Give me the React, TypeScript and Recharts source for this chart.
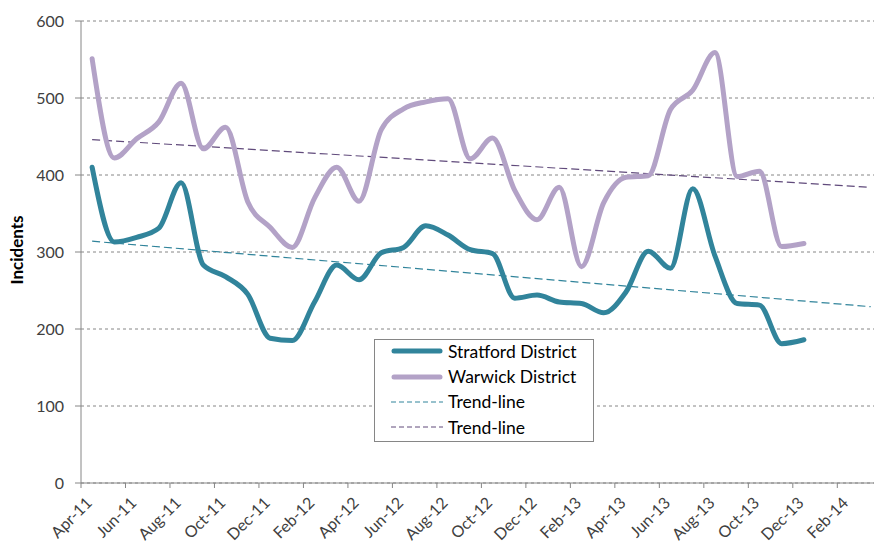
import { LineChart, Line, XAxis, YAxis, CartesianGrid, Legend } from "recharts";

const months = [
  "Apr-11", "May-11", "Jun-11", "Jul-11", "Aug-11", "Sep-11", "Oct-11", "Nov-11", "Dec-11",
  "Jan-12", "Feb-12", "Mar-12", "Apr-12", "May-12", "Jun-12", "Jul-12", "Aug-12", "Sep-12",
  "Oct-12", "Nov-12", "Dec-12", "Jan-13", "Feb-13", "Mar-13", "Apr-13", "May-13", "Jun-13",
  "Jul-13", "Aug-13", "Sep-13", "Oct-13", "Nov-13", "Dec-13",
];

const stratford = [
  410, 313, 319, 331, 390, 283, 268, 245, 188, 185, 235, 283, 264, 299, 306, 334, 322,
  303, 298, 240, 244, 235, 233, 221, 248, 301, 279, 382, 295, 233, 231, 181, 186,
];

const warwick = [
  551, 422, 447, 469, 519, 434, 462, 365, 332, 306, 370, 410, 366, 459, 486, 495, 499,
  421, 448, 380, 342, 384, 281, 364, 397, 399, 485, 510, 559, 398, 405, 307, 311,
];

// trend lines, start and end (month index)
const trendX = [0.5, 35.5];
const stratfordTrend = [314, 229];
const warwickTrend = [446, 384];

const xTickLabels = [
  "Apr-11", "Jun-11", "Aug-11", "Oct-11", "Dec-11", "Feb-12", "Apr-12", "Jun-12", "Aug-12",
  "Oct-12", "Dec-12", "Feb-13", "Apr-13", "Jun-13", "Aug-13", "Oct-13", "Dec-13", "Feb-14",
];
const xTicks = xTickLabels.map((_, i) => i * 2);
const yTicks = [0, 100, 200, 300, 400, 500, 600];

const data = months.map((m, i) => ({
  x: i + 0.5,
  month: m,
  stratford: stratford[i],
  warwick: warwick[i],
}));

const stratfordTrendData = trendX.map((x, i) => ({ x, trend: stratfordTrend[i] }));
const warwickTrendData = trendX.map((x, i) => ({ x, trend: warwickTrend[i] }));

const FONT = "Lato, 'Open Sans', sans-serif";
const TEAL = "#31849B";
const LILAC = "#B3A2C7";
const PURPLE = "#604A7B";
const AXIS = "#868686";

const XTick = ({ x, y, payload }: any) => {
  const label = xTickLabels[Math.round(payload.value / 2)];
  return (
    <g transform={`translate(${x + 12},${y + 16})`}>
      <text
        x={0}
        y={0}
        textAnchor="end"
        transform="rotate(-45)"
        fill="#404040"
        fontSize={16}
        fontFamily={FONT}
      >
        {label}
      </text>
    </g>
  );
};

const YLabel = () => (
  <text
    x={23}
    y={250}
    transform="rotate(-90, 23, 250)"
    textAnchor="middle"
    fontFamily={FONT}
    fontWeight="bold"
    fontSize={17}
    fill="#000"
  >
    Incidents
  </text>
);

const legendItems = [
  { name: "Stratford District", color: TEAL, width: 5, dash: undefined },
  { name: "Warwick District", color: LILAC, width: 5, dash: undefined },
  { name: "Trend-line", color: TEAL, width: 1, dash: "5 3" },
  { name: "Trend-line", color: PURPLE, width: 1, dash: "5 3" },
];

const LegendBox = () => (
  <div
    style={{
      width: 220,
      height: 103,
      boxSizing: "border-box",
      border: `1px solid ${AXIS}`,
      background: "#fff",
      fontFamily: FONT,
      fontSize: 17.5,
      color: "#000",
    }}
  >
    {legendItems.map((item, i) => (
      <div
        key={i}
        style={{
          height: 25.4,
          marginTop: i === 0 ? -1.5 : 0,
          display: "flex",
          alignItems: "center",
        }}
      >
        <svg width={52} height={10} style={{ marginLeft: 16, marginRight: 5 }}>
          <line
            x1={item.width > 2 ? 3 : 0}
            y1={5}
            x2={item.width > 2 ? 49 : 52}
            y2={5}
            stroke={item.color}
            strokeWidth={item.width}
            strokeLinecap={item.width > 2 ? "round" : "butt"}
            strokeDasharray={item.dash}
          />
        </svg>
        <span>{item.name}</span>
      </div>
    ))}
  </div>
);

export default function App() {
  return (
    <div style={{ position: "absolute", left: 0, top: 0, background: "#fff" }}>
      <LineChart
        width={876}
        height={545}
        margin={{ top: 21, right: 2, left: 0, bottom: 0 }}
      >
        <CartesianGrid
          horizontal={true}
          vertical={false}
          stroke={AXIS}
          strokeDasharray="3 3"
        />
        <XAxis
          type="number"
          dataKey="x"
          domain={[0, 35.65]}
          ticks={xTicks}
          interval={0}
          height={62}
          stroke={AXIS}
          tickSize={5}
          tickMargin={0}
          tick={<XTick />}
          allowDataOverflow
        />
        <YAxis
          type="number"
          domain={[0, 600]}
          ticks={yTicks}
          width={81}
          stroke={AXIS}
          tickSize={6}
          tickMargin={11}
          tick={{ fill: "#404040", fontSize: 16, fontFamily: FONT }}
          label={<YLabel />}
        />
        <Legend
          layout="vertical"
          align="center"
          verticalAlign="middle"
          content={<LegendBox />}
          wrapperStyle={{ left: 374, top: 339, width: 220, height: 103 }}
        />
        <Line
          data={stratfordTrendData}
          dataKey="trend"
          stroke={TEAL}
          strokeWidth={1.2}
          strokeDasharray="8 4"
          dot={false}
          isAnimationActive={false}
          legendType="none"
        />
        <Line
          data={warwickTrendData}
          dataKey="trend"
          stroke={PURPLE}
          strokeWidth={1.2}
          strokeDasharray="8 4"
          dot={false}
          isAnimationActive={false}
          legendType="none"
        />
        <Line
          data={data}
          type="monotone"
          dataKey="stratford"
          name="Stratford District"
          stroke={TEAL}
          strokeWidth={5}
          strokeLinecap="round"
          dot={false}
          isAnimationActive={false}
        />
        <Line
          data={data}
          type="monotone"
          dataKey="warwick"
          name="Warwick District"
          stroke={LILAC}
          strokeWidth={5}
          strokeLinecap="round"
          dot={false}
          isAnimationActive={false}
        />
      </LineChart>
    </div>
  );
}
